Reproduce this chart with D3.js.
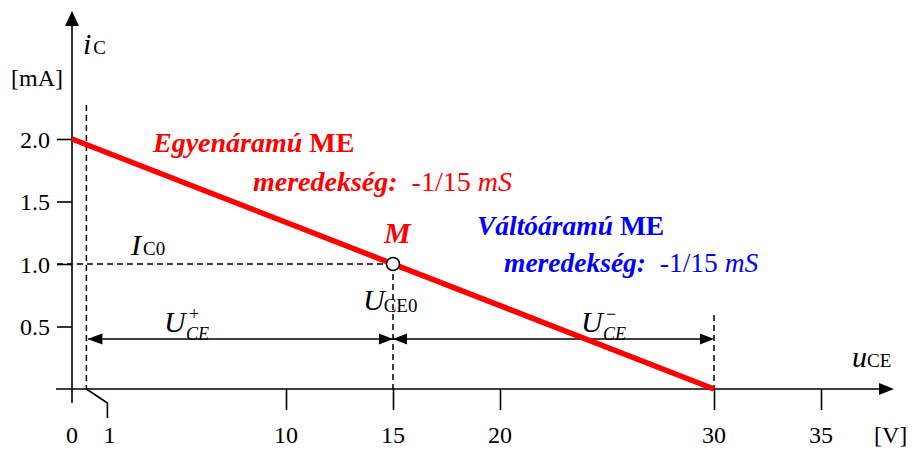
<!DOCTYPE html>
<html><head><meta charset="utf-8">
<script src="https://cdn.jsdelivr.net/npm/d3@7"></script>
<style>
html,body{margin:0;padding:0;background:#fff;}
svg text{font-family:"Liberation Serif","Times New Roman","DejaVu Serif",serif;}
</style></head>
<body>
<svg id="c" width="913" height="449"></svg>
<script>
// ---- data ----
const xTicks = [0, 10, 15, 20, 30, 35];
const xTickLabels = ["0", "10", "15", "20", "30", "35"];
const yTicks = [0.5, 1.0, 1.5, 2.0];
const yTickLabels = ["0.5", "1.0", "1.5", "2.0"];
const loadLineU = [0, 30];        // V
const loadLineI = [2.0, 0];       // mA
const qPointU = [15];             // U_CE0
const qPointI = [1.0];            // I_C0
const uMin = [1];                 // saturation limit
const dimLevel = [0.4];           // level of dimension arrows (mA)
const dcText = ["Egyenáramú", " ME", "meredekség:", "  -1/15 ", "mS"];
const acText = ["Váltóáramú", " ME", "meredekség:", "  -1/15 ", "mS"];

const FONT = "Liberation Serif, Times New Roman, DejaVu Serif, serif";
const svg = d3.select("#c").attr("font-family", FONT);
const x = d3.scaleLinear().domain([0, 30]).range([72, 714]);
const y = d3.scaleLinear().domain([0, 2]).range([389, 139]);
const X0 = x(0), Y0 = y(0);
const black = "#000", red = "#ff0000", blue = "#0000ff";

function T(sel) { return sel.append("text").attr("font-family", FONT); }

function arrowHead(tipX, tipY, dir, len, hw) {
  let pts;
  if (dir === "r") pts = [[tipX, tipY], [tipX - len, tipY - hw], [tipX - len, tipY + hw]];
  if (dir === "l") pts = [[tipX, tipY], [tipX + len, tipY - hw], [tipX + len, tipY + hw]];
  if (dir === "u") pts = [[tipX, tipY], [tipX - hw, tipY + len], [tipX + hw, tipY + len]];
  svg.append("path").attr("d", d3.line()(pts) + "Z").attr("fill", black);
}

// ---- axes lines ----
svg.append("line").attr("x1", X0 - 16).attr("x2", 880).attr("y1", Y0).attr("y2", Y0)
  .attr("stroke", black).attr("stroke-width", 1.6);
arrowHead(894, Y0, "r", 15, 6);
svg.append("line").attr("x1", X0).attr("x2", X0).attr("y1", Y0 + 14).attr("y2", 24)
  .attr("stroke", black).attr("stroke-width", 1.6);
arrowHead(X0, 11, "u", 15, 7);

// ---- x axis ticks ----
const xAxis = d3.axisBottom(x).tickValues(xTicks.filter(d => d !== 0)).tickSize(21).tickFormat("");
const gx = svg.append("g").attr("transform", `translate(0,${Y0})`).call(xAxis);
gx.select(".domain").remove();
gx.selectAll(".tick line").attr("stroke", black).attr("stroke-width", 1.6);
svg.append("g").selectAll("text").data(xTicks).join("text")
  .attr("font-family", FONT)
  .attr("x", d => x(d)).attr("y", Y0 + 54).attr("text-anchor", "middle")
  .attr("font-size", 24).attr("fill", black)
  .text((d, i) => xTickLabels[i]);

// "1" label with bent leader
const u1 = x(uMin[0]) - 7;
svg.append("path")
  .attr("d", d3.line()([[u1, Y0], [u1 + 21, Y0 + 14], [u1 + 21, Y0 + 29]]))
  .attr("fill", "none").attr("stroke", black).attr("stroke-width", 1.6);
T(svg).attr("x", u1 + 23).attr("y", Y0 + 54).attr("text-anchor", "middle")
  .attr("font-size", 24).text(String(uMin[0]));

// ---- y axis ticks ----
const yAxis = d3.axisLeft(y).tickValues(yTicks).tickSize(15).tickFormat((d, i) => yTickLabels[i]);
const gy = svg.append("g").attr("transform", `translate(${X0},0)`).call(yAxis);
gy.attr("font-family", FONT);
gy.select(".domain").remove();
gy.selectAll(".tick line").attr("stroke", black).attr("stroke-width", 1.6);
gy.selectAll(".tick text").attr("x", -22).attr("dy", "0.34em")
  .attr("font-size", 24).attr("font-family", FONT).attr("fill", black);

// ---- axis titles ----
const t1 = T(svg).attr("x", 83).attr("y", 54).attr("font-size", 30);
t1.append("tspan").attr("font-style", "italic").text("i");
t1.append("tspan").attr("font-size", 19).attr("dx", 2).text("C");
T(svg).attr("x", 11).attr("y", 86).attr("font-size", 24).text("[mA]");
const t2 = T(svg).attr("x", 852).attr("y", 367).attr("font-size", 30);
t2.append("tspan").attr("font-style", "italic").text("u");
t2.append("tspan").attr("font-size", 19).attr("dx", 0).text("CE");
T(svg).attr("x", 874).attr("y", Y0 + 54).attr("font-size", 24).text("[V]");

// ---- dashed guide lines ----
const dash = "6,4";
const qx = x(qPointU[0]), qy = y(qPointI[0]);
svg.append("line").attr("x1", u1).attr("x2", u1).attr("y1", 105).attr("y2", Y0)
  .attr("stroke", black).attr("stroke-width", 1.5).attr("stroke-dasharray", dash);
svg.append("line").attr("x1", X0 - 15).attr("x2", qx).attr("y1", qy).attr("y2", qy)
  .attr("stroke", black).attr("stroke-width", 1.5).attr("stroke-dasharray", dash);
svg.append("line").attr("x1", qx).attr("x2", qx).attr("y1", qy).attr("y2", Y0)
  .attr("stroke", black).attr("stroke-width", 1.5).attr("stroke-dasharray", dash);
svg.append("line").attr("x1", x(loadLineU[1])).attr("x2", x(loadLineU[1])).attr("y1", 315).attr("y2", Y0)
  .attr("stroke", black).attr("stroke-width", 1.5).attr("stroke-dasharray", dash);

// ---- dimension arrows ----
const dy = y(dimLevel[0]);
svg.append("line").attr("x1", u1 + 2).attr("x2", x(loadLineU[1]) - 2).attr("y1", dy).attr("y2", dy)
  .attr("stroke", black).attr("stroke-width", 1.6);
arrowHead(u1 + 1, dy, "l", 15, 5.5);
arrowHead(qx, dy, "r", 14, 5.5);
arrowHead(qx, dy, "l", 14, 5.5);
arrowHead(x(loadLineU[1]), dy, "r", 14, 5.5);

// U+CE and U-CE labels
function uLabel(xp, sign) {
  T(svg).attr("x", xp).attr("y", dy - 7).attr("font-size", 30).attr("font-style", "italic").text("U");
  T(svg).attr("x", xp + 25).attr("y", dy - 19).attr("font-size", 18).text(sign);
  T(svg).attr("x", xp + 22).attr("y", dy + 1).attr("font-size", 18).attr("font-style", "italic").text("CE");
}
uLabel(164, "+");
uLabel(581, "\u2212");

// I_C0, U_CE0 labels
const ti = T(svg).attr("x", 131).attr("y", qy - 9).attr("font-size", 30);
ti.append("tspan").attr("font-style", "italic").text("I");
ti.append("tspan").attr("font-size", 19).attr("dx", 2).text("C0");
const tu = T(svg).attr("x", qx - 30).attr("y", qy + 46).attr("font-size", 30);
tu.append("tspan").attr("font-style", "italic").text("U");
tu.append("tspan").attr("font-size", 19).attr("dx", -1).attr("dy", 2).text("CE0");

// ---- load line ----
svg.append("path")
  .attr("d", d3.line().x(d => x(d[0])).y(d => y(d[1]))(loadLineU.map((u, i) => [u, loadLineI[i]])))
  .attr("stroke", red).attr("stroke-width", 5.5).attr("fill", "none");

// Q point
svg.append("circle").attr("cx", qx).attr("cy", qy).attr("r", 6.5)
  .attr("fill", "#fff").attr("stroke", black).attr("stroke-width", 1.6);
T(svg).attr("x", qx - 9).attr("y", qy - 21).attr("font-size", 30)
  .attr("font-weight", "bold").attr("font-style", "italic").attr("fill", red).text("M");

// ---- annotation texts ----
function block(txt, color, fs, x1, y1, x2, y2) {
  const a = T(svg).attr("x", x1).attr("y", y1).attr("font-size", fs).attr("fill", color).attr("font-weight", "bold");
  a.append("tspan").attr("font-style", "italic").text(txt[0]);
  a.append("tspan").text(txt[1]);
  const b = T(svg).attr("x", x2).attr("y", y2).attr("font-size", fs).attr("fill", color).style("white-space", "pre");
  b.append("tspan").attr("font-weight", "bold").attr("font-style", "italic").text(txt[2]);
  b.append("tspan").text(txt[3]);
  b.append("tspan").attr("font-style", "italic").text(txt[4]);
}
block(dcText, red, 28, 153, 152, 253, 191);
block(acText, blue, 27.5, 477, 235, 504, 272);
</script>
</body></html>
